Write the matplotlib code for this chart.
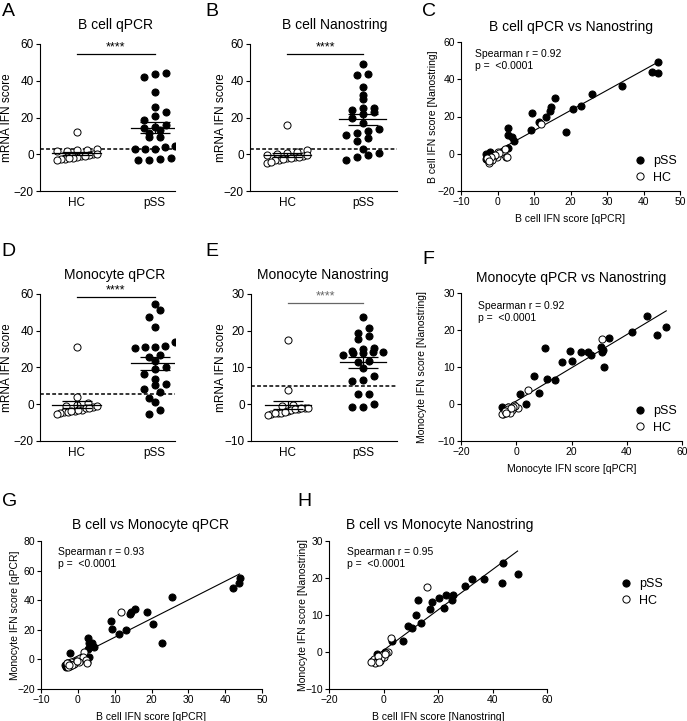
import numpy as np
import matplotlib
matplotlib.use("Agg")
import matplotlib.pyplot as plt
from matplotlib.lines import Line2D

plt.rcParams['font.family'] = ['Liberation Sans', 'DejaVu Sans']

# ---- data ----
# C: B cell qPCR (x) vs B cell Nanostring (y); also used for A and B
c_pss_x = [44.1, 42.3, 43.9, 34.1, 25.8, 22.9, 20.6, 15.7, 14.6, 14.4, 13.3, 11.4,
           9.4, 9.2, 18.9, 2.9, 2.9, 3.9, 4.5, 2.9, -3.1, -2.7, -3.2, -2.0]
c_pss_y = [49.3, 43.7, 43.3, 36.6, 32.1, 25.4, 24.1, 29.9, 25.2, 22.8, 19.7, 17.0,
           22.1, 12.5, 11.8, 13.8, 10.3, 8.9, 7.1, 2.9, -0.2, -1.6, -2.9, 0.7]
c_hc_x = [11.9, 1.6, 1.8, 2.3, 2.1, 2.6, 0.1, -0.2, -1.0, 0.3, -0.8, -1.5, -2.4,
          -2.6, -1.8, -2.9, -2.2]
c_hc_y = [16.1, 1.1, -0.2, -2.0, 2.5, -1.5, 0.7, -2.0, -1.0, 0.2, -0.5, -3.4, -4.7,
          -3.4, -1.5, -2.5, -4.0]

# F: Monocyte qPCR (x) vs Monocyte Nanostring (y); also used for D and E
f_pss_x = [54.3, 51.1, 47.3, 41.9, 33.7, 31.8, 31.1, 30.6, 31.4, 27.0, 25.8, 23.4,
           20.0, 19.4, 16.6, 13.9, 10.5, 11.1, 8.3, 6.4, 3.6, 1.4, -2.9, -5.3]
f_pss_y = [20.7, 18.6, 23.8, 19.4, 17.8, 9.9, 14.0, 15.3, 14.6, 13.3, 14.0, 14.1,
           11.7, 14.3, 11.4, 6.4, 15.1, 6.7, 2.9, 7.6, 0.0, 2.7, -0.7, -0.7]
f_hc_x = [31.2, 4.2, 0.7, -0.7, -2.9, -4.1, -4.7, -3.5, -1.7, -2.3, -0.4, -1.2,
          -3.0, -5.3, -4.0, -2.0, -3.8]
f_hc_y = [17.6, 3.8, -1.2, -0.3, -0.9, -2.3, -2.7, -1.8, -1.6, -2.3, -0.5, -0.9,
          -1.3, -2.8, -2.0, -1.1, -2.5]

# G: B cell qPCR (x) vs Monocyte qPCR (y)
g_pss_x = [43.9, 43.8, 42.1, 25.6, 15.5, 14.4, 14.1, 18.8, 20.4, 22.8, 9.0, 9.2,
           11.3, 13.2, 2.8, 3.1, 3.9, 4.5, 2.8, 2.9, -2.1, -3.5, -3.3, -3.0]
g_pss_y = [55.2, 51.8, 48.0, 42.3, 34.0, 31.8, 30.9, 32.2, 23.6, 11.0, 26.1, 20.3,
           17.1, 19.8, 14.6, 11.3, 11.3, 8.6, 6.8, 1.8, 4.1, -3.8, -5.0, -2.7]
g_hc_x = [11.7, 1.8, 1.5, 2.4, 2.1, -0.4, -1.9, -2.6, -2.1, -1.0, 0.3, -2.8, -1.5,
          -3.0, -0.2, 2.6, -2.3]
g_hc_y = [31.8, 4.7, 1.8, -1.6, -0.5, -1.1, -1.6, -2.7, -4.3, -3.0, -2.0, -4.8,
          -3.5, -2.2, -0.8, -2.5, -3.9]

# H: B cell Nanostring (x) vs Monocyte Nanostring (y)
h_pss_x = [43.8, 49.2, 43.5, 36.7, 32.3, 29.9, 25.6, 25.1, 22.9, 22.3, 20.2, 17.9,
           17.2, 12.7, 12.0, 13.9, 9.0, 10.4, 7.1, 3.2, 0.7, -2.3, -1.9, -0.5]
h_pss_y = [24.0, 21.0, 18.7, 19.6, 19.6, 17.9, 15.4, 14.1, 15.4, 12.0, 14.5, 13.4,
           11.6, 14.1, 10.0, 7.8, 7.0, 6.6, 3.0, 3.0, 0.1, -0.6, -1.0, -0.8]
h_hc_x = [16.1, 2.6, 1.7, -4.1, -3.5, -1.3, -1.9, 0.1, -2.5, -0.5, 0.8, -3.0, -1.0,
          -2.2, 0.5, -1.6, -4.5]
h_hc_y = [17.6, 3.7, -0.1, -2.4, -1.9, -2.3, -1.9, -1.3, -2.7, -0.9, -0.3, -2.9,
          -1.6, -1.1, -0.6, -2.6, -2.8]

groups = ["HC", "pSS"]
cutoffs = {"A": 2.7, "B": 2.7, "D": 5.5, "E": 5.0}
spearman = {"C": "0.92", "F": "0.92", "G": "0.93", "H": "0.95"}

W, H = 687, 721
fig = plt.figure(figsize=(W / 100, H / 100), dpi=100)


def add_ax(l, r, t, b):
    return fig.add_axes([l / W, 1 - b / H, (r - l) / W, (b - t) / H])


def fig_text(x, y, s, **kw):
    fig.text(x / W, 1 - y / H, s, **kw)


def style(ax):
    for side in ["top", "right"]:
        ax.spines[side].set_visible(False)
    for side in ["left", "bottom"]:
        ax.spines[side].set_linewidth(0.8)
    ax.tick_params(direction="out", length=3, width=0.8, pad=1.5, labelsize=8)


def swarm(ax, xc, vals, bin_px=8.0, step_px=11.0, max_px=40.0):
    # GraphPad-like column scatter: values grouped in rows, spread evenly in each row
    vals = np.asarray(vals, float)
    pts = ax.transData.transform(np.column_stack([np.full(len(vals), xc), vals]))
    ys = pts[:, 1]
    x0 = pts[0, 0]
    rows = np.floor((ys - ys.min()) / bin_px)
    off = np.zeros(len(vals))
    for r in np.unique(rows):
        idx = np.where(rows == r)[0]
        idx = idx[np.argsort(vals[idx])]
        n = len(idx)
        if n > 1:
            step = min(step_px, max_px / (n - 1))
            off[idx] = (np.arange(n) - (n - 1) / 2) * step
    back = ax.transData.inverted().transform(np.column_stack([x0 + off, ys]))
    return back[:, 0]


def dot_panel(box, hc, pss, ylim, yticks, xlim, cut, sig_y, title, title_xy,
              ylab_x, sig_color="k"):
    ax = add_ax(*box)
    style(ax)
    ax.set_xlim(*xlim)
    ax.set_ylim(*ylim)
    ax.set_yticks(yticks)
    ax.set_xticks([0, 1])
    ax.set_xticklabels(groups)
    ax.tick_params(axis="x", length=0, pad=4, labelsize=8.5)
    ax.tick_params(axis="y", labelsize=8.5)
    ax.set_ylabel("mRNA IFN score", fontsize=8.5)
    ax.yaxis.set_label_coords((ylab_x - box[0]) / (box[1] - box[0]), 0.5)
    for i, (vals, filled) in enumerate([(hc, False), (pss, True)]):
        xs = swarm(ax, i, vals)
        ax.scatter(xs, vals, s=26, facecolor="k" if filled else "white",
                   edgecolor="k", linewidth=0.7, zorder=3)
        m = np.mean(vals)
        sem = np.std(vals, ddof=1) / np.sqrt(len(vals))
        ax.plot([i - 0.31, i + 0.31], [m, m], color="k", lw=0.9, zorder=4)
        ax.errorbar(i, m, yerr=sem, fmt="none", ecolor="k", elinewidth=0.9,
                    capsize=11, capthick=0.9, zorder=4)
    ax.axhline(cut, color="k", ls=(0, (2.5, 1.5)), lw=1.1, zorder=2)
    ax.plot([0, 1], [sig_y, sig_y], color=sig_color, lw=0.9, clip_on=False)
    ax.annotate("****", (0.5, sig_y), xytext=(0, 0.5), textcoords="offset points",
                ha="center", va="bottom", fontsize=9, color=sig_color)
    fig_text(title_xy[0], title_xy[1], title, ha="center", va="center", fontsize=10)
    return ax


def scatter_panel(box, px, py, hx, hy, xlim, xticks, ylim, yticks, xlabel, ylabel,
                  r, title, title_xy, text_xy, ylab_x, legend_xy=None):
    ax = add_ax(*box)
    style(ax)
    ax.tick_params(labelsize=7.5)
    ax.set_xlim(*xlim)
    ax.set_ylim(*ylim)
    ax.set_xticks(xticks)
    ax.set_yticks(yticks)
    ax.set_xlabel(xlabel, fontsize=7.5, labelpad=5)
    ax.set_ylabel(ylabel, fontsize=7.5)
    ax.yaxis.set_label_coords((ylab_x - box[0]) / (box[1] - box[0]), 0.5)
    ax.scatter(px, py, s=26, facecolor="k", edgecolor="k", linewidth=0.7, zorder=3)
    ax.scatter(hx, hy, s=26, facecolor="white", edgecolor="k", linewidth=0.7, zorder=3)
    allx = np.concatenate([px, hx])
    ally = np.concatenate([py, hy])
    k, b0 = np.polyfit(allx, ally, 1)
    xx = np.array([allx.min(), allx.max()])
    ax.plot(xx, k * xx + b0, color="k", lw=0.8, zorder=2)
    fig_text(text_xy[0], text_xy[1], "Spearman r = " + r + "\np =  <0.0001",
             ha="left", va="top", fontsize=7.5, linespacing=1.25)
    fig_text(title_xy[0], title_xy[1], title, ha="center", va="center", fontsize=10)
    if legend_xy is not None:
        handles = [Line2D([], [], ls="none", marker="o", ms=5.2, mfc="k", mec="k", mew=0.7),
                   Line2D([], [], ls="none", marker="o", ms=5.2, mfc="white", mec="k", mew=0.7)]
        ax.legend(handles, ["pSS", "HC"], loc="upper left",
                  bbox_to_anchor=(legend_xy[0] / W, 1 - legend_xy[1] / H),
                  bbox_transform=fig.transFigure, frameon=False, fontsize=9,
                  handletextpad=0.6, labelspacing=0.35, borderpad=0, handlelength=1.0)
    return ax


# row 1
dot_panel((40, 175, 44, 191), c_hc_x, c_pss_x, (-20, 60), [-20, 0, 20, 40, 60],
          (-0.47, 1.26), cutoffs["A"], 54.4, "B cell qPCR", (115, 25), 13)
dot_panel((250, 397, 44, 191), c_hc_y, c_pss_y, (-20, 60), [-20, 0, 20, 40, 60],
          (-0.49, 1.45), cutoffs["B"], 54.4, "B cell Nanostring", (335, 25), 227)
scatter_panel((461, 680, 42, 191), c_pss_x, c_pss_y, c_hc_x, c_hc_y,
              (-10, 50), range(-10, 51, 10), (-20, 60), range(-20, 61, 20),
              "B cell IFN score [qPCR]", "B cell IFN score [Nanostring]",
              spearman["C"], "B cell qPCR vs Nanostring", (571, 27), (475, 49), 438,
              legend_xy=(627, 149))

# row 2
dot_panel((40, 175, 294, 441), f_hc_x, f_pss_x, (-20, 60), [-20, 0, 20, 40, 60],
          (-0.47, 1.26), cutoffs["D"], 58.2, "Monocyte qPCR", (115, 275), 13)
dot_panel((251, 397, 294, 441), f_hc_y, f_pss_y, (-10, 30), [-10, 0, 10, 20, 30],
          (-0.49, 1.45), cutoffs["E"], 27.6, "Monocyte Nanostring", (323, 275), 227,
          sig_color="0.4")
scatter_panel((461, 682, 293, 441), f_pss_x, f_pss_y, f_hc_x, f_hc_y,
              (-20, 60), range(-20, 61, 20), (-10, 30), range(-10, 31, 10),
              "Monocyte IFN score [qPCR]", "Monocyte IFN score [Nanostring]",
              spearman["F"], "Monocyte qPCR vs Nanostring", (571, 278), (478, 301), 427,
              legend_xy=(627, 399))

# row 3
scatter_panel((41, 262, 541, 689), g_pss_x, g_pss_y, g_hc_x, g_hc_y,
              (-10, 50), range(-10, 51, 10), (-20, 80), range(-20, 81, 20),
              "B cell IFN score [qPCR]", "Monocyte IFN score [qPCR]",
              spearman["G"], "B cell vs Monocyte qPCR", (150, 525), (58, 547), 20)
scatter_panel((329, 547, 541, 689), h_pss_x, h_pss_y, h_hc_x, h_hc_y,
              (-20, 60), range(-20, 61, 20), (-10, 30), range(-10, 31, 10),
              "B cell IFN score [Nanostring]", "Monocyte IFN score [Nanostring]",
              spearman["H"], "B cell vs Monocyte Nanostring", (440, 525), (347, 547), 308,
              legend_xy=(613, 572))

# panel letters
for letter, (x, y) in {"A": (2, 3), "B": (205, 3), "C": (422, 3), "D": (1, 243),
                       "E": (205, 243), "F": (422, 251), "G": (2, 493),
                       "H": (297, 493)}.items():
    fig_text(x, y, letter, ha="left", va="top", fontsize=14)

fig.savefig("out.png", dpi=100)
